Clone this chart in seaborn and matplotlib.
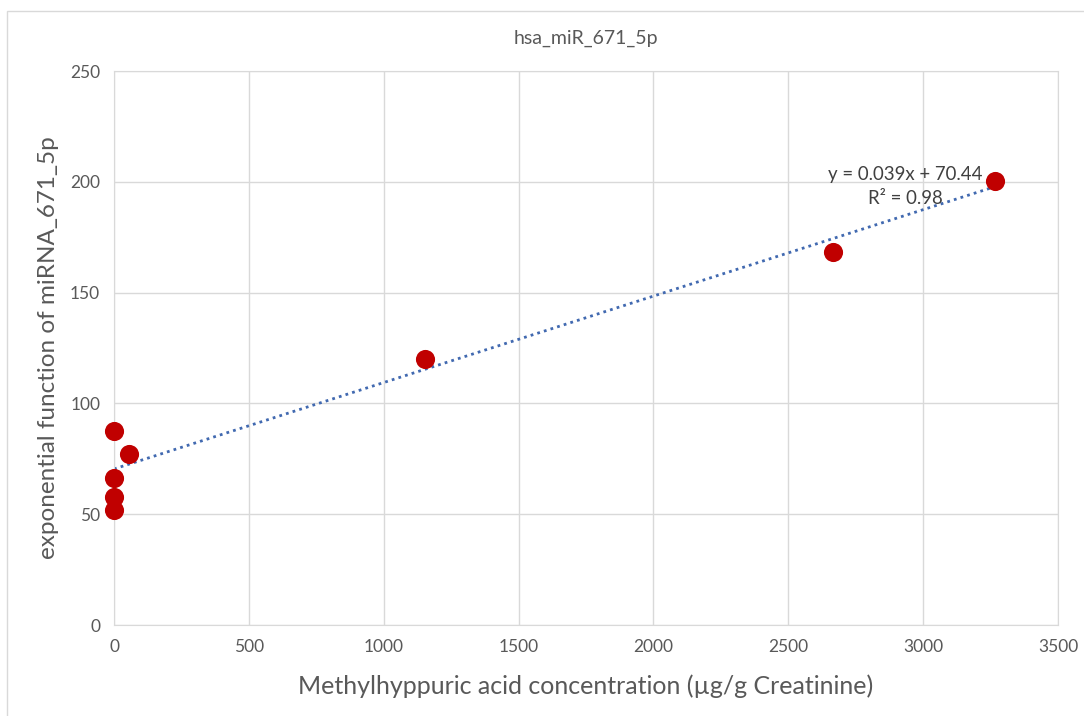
import matplotlib.pyplot as plt
import matplotlib.patches as mpatches
import numpy as np
import seaborn as sns

# methylhippuric acid vs miRNA expression
conc = [0, 0, 0, 0, 56, 1153, 2666, 3267]
expr = [87.5, 66.5, 58, 52, 77, 120, 168.5, 200.5]

slope = 0.039
intercept = 70.44
r2 = 0.98

sns.set_style('white')
plt.rcParams['font.family'] = ['Lato', 'DejaVu Sans']

fig = plt.figure(figsize=(10.84, 7.16), dpi=100)
ax = fig.add_axes([0.1052, 0.127, 0.8708, 0.7738])

# light chart-area border like the spreadsheet export
fig.patches.append(mpatches.Rectangle((7 / 1084, -0.05), 1.1, 1 - 11 / 716 + 0.05,
                                      transform=fig.transFigure, fill=False,
                                      edgecolor='#d9d9d9', linewidth=1))

sns.scatterplot(x=conc, y=expr, ax=ax, color='#c00000', s=190,
                edgecolor='#c00000', linewidth=0, zorder=3, clip_on=False)

trend_x = np.array([0, max(conc)])
ax.plot(trend_x, slope * trend_x + intercept, linestyle=(0, (1, 1.5)),
        color='#4169b0', linewidth=2, zorder=2)

ax.set_xlim(0, 3500)
ax.set_ylim(0, 250)
ax.set_xticks(range(0, 3501, 500))
ax.set_yticks(range(0, 251, 50))
ax.grid(True, color='#d9d9d9', linewidth=1)
for side in ax.spines.values():
    side.set_color('#d9d9d9')
ax.tick_params(colors='#595959', labelsize=12.5, length=0, pad=10)

ax.set_title('hsa_miR_671_5p', fontsize=14, color='#595959', pad=20)
ax.set_xlabel('Methylhyppuric acid concentration (µg/g Creatinine)',
              fontsize=18, color='#595959', labelpad=14)
ax.set_ylabel('exponential function of miRNA_671_5p',
              fontsize=17.5, color='#595959', labelpad=8)

ax.text(2933, 198, f'y = {slope}x + {intercept}\nR² = {r2}', ha='center', va='center',
        fontsize=13.4, color='#404040', linespacing=1.5, multialignment='center')

fig.savefig('out.png', dpi=100)
